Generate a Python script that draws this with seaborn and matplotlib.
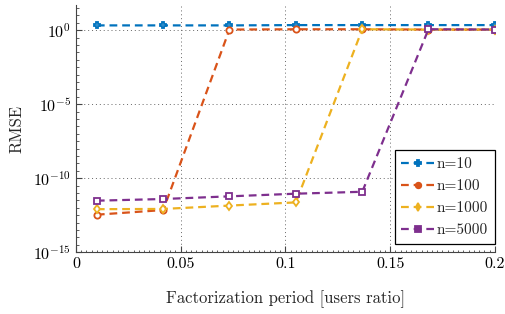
import numpy as np
import pandas as pd
import matplotlib
matplotlib.use("Agg")
import matplotlib.pyplot as plt
import matplotlib.ticker as mticker
import seaborn as sns

# --- data ---
ratio = [0.01, 0.0417, 0.0733, 0.105, 0.1367, 0.1683, 0.2]
rmse_n10 = [2.1, 2.1, 2.1, 2.2, 2.2, 2.2, 2.2]
rmse_n100 = [3.4e-13, 7.0e-13, 1.1, 1.15, 1.15, 1.1, 1.1]
rmse_n1000 = [8.0e-13, 8.3e-13, 1.4e-12, 2.3e-12, 1.15, 1.1, 1.1]
rmse_n5000 = [3.0e-12, 3.9e-12, 5.9e-12, 8.9e-12, 1.2e-11, 1.15, 1.1]
labels = ["n=10", "n=100", "n=1000", "n=5000"]
colors = ["#0072BD", "#D95319", "#EDB120", "#7E2F8E"]
markers = ["P", "o", "d", "s"]

df = pd.concat([
    pd.DataFrame({"ratio": ratio, "rmse": vals, "n": lab})
    for vals, lab in zip([rmse_n10, rmse_n100, rmse_n1000, rmse_n5000], labels)
])

sns.set_style("ticks")
plt.rcParams["font.family"] = ["cmr10"]
plt.rcParams["mathtext.fontset"] = "cm"
plt.rcParams["axes.formatter.use_mathtext"] = True

fig = plt.figure(figsize=(5.06, 3.14), dpi=100)
ax = fig.add_axes([0.150, 0.197, 0.828, 0.787])

for lab, col, mk in zip(labels, colors, markers):
    sub = df[df["n"] == lab]
    sns.lineplot(data=sub, x="ratio", y="rmse", ax=ax, color=col, label=lab,
                 marker=mk, markersize=4.5, markerfacecolor="white",
                 markeredgecolor=col, markeredgewidth=1.3,
                 linewidth=1.6, dashes=False)
for line in ax.get_lines():
    line.set_linestyle((0, (3.5, 2.2)))

ax.set_yscale("log")
ax.set_xlim(0, 0.2)
ax.set_ylim(1e-15, 50)
ax.set_yticks([1e-15, 1e-10, 1e-5, 1e0])
ax.yaxis.set_major_formatter(mticker.FuncFormatter(
    lambda v, p: r"$10^{%d}$" % round(np.log10(v))))
ax.yaxis.set_minor_locator(mticker.FixedLocator(10.0 ** np.arange(-15, 1.8, 0.5)))
ax.yaxis.set_minor_formatter(mticker.NullFormatter())
ax.set_xticks([0, 0.05, 0.1, 0.15, 0.2])
ax.set_xticklabels(["0", "0.05", "0.1", "0.15", "0.2"])
ax.xaxis.set_minor_locator(mticker.MultipleLocator(0.0025))

ax.grid(True, which="major", linestyle=(0, (1, 3)), color="#666666", linewidth=0.7)
ax.tick_params(which="both", direction="in", colors="#444444", labelcolor="black",
               labelsize=11.5)
ax.tick_params(which="major", length=4)
ax.tick_params(which="minor", length=1.8, width=0.6)
ax.spines["top"].set_visible(False)
ax.spines["right"].set_visible(False)
for s in ["left", "bottom"]:
    ax.spines[s].set_color("#444444")
    ax.spines[s].set_linewidth(0.8)

ax.set_xlabel("Factorization period [users ratio]", fontsize=12, labelpad=14)
ax.set_ylabel("RMSE", fontsize=12, labelpad=6)

leg = ax.legend(loc="lower right", bbox_to_anchor=(1.0, 0.032), fontsize=11,
                frameon=True, fancybox=False, edgecolor="black", framealpha=1,
                borderpad=0.45, handlelength=2.1, handletextpad=0.2,
                labelspacing=0.55, borderaxespad=0)
leg.get_frame().set_linewidth(0.9)
for h in leg.get_lines():
    h.set_markerfacecolor(h.get_color())
    h.set_markersize(4)

fig.savefig("out.png", dpi=100)
